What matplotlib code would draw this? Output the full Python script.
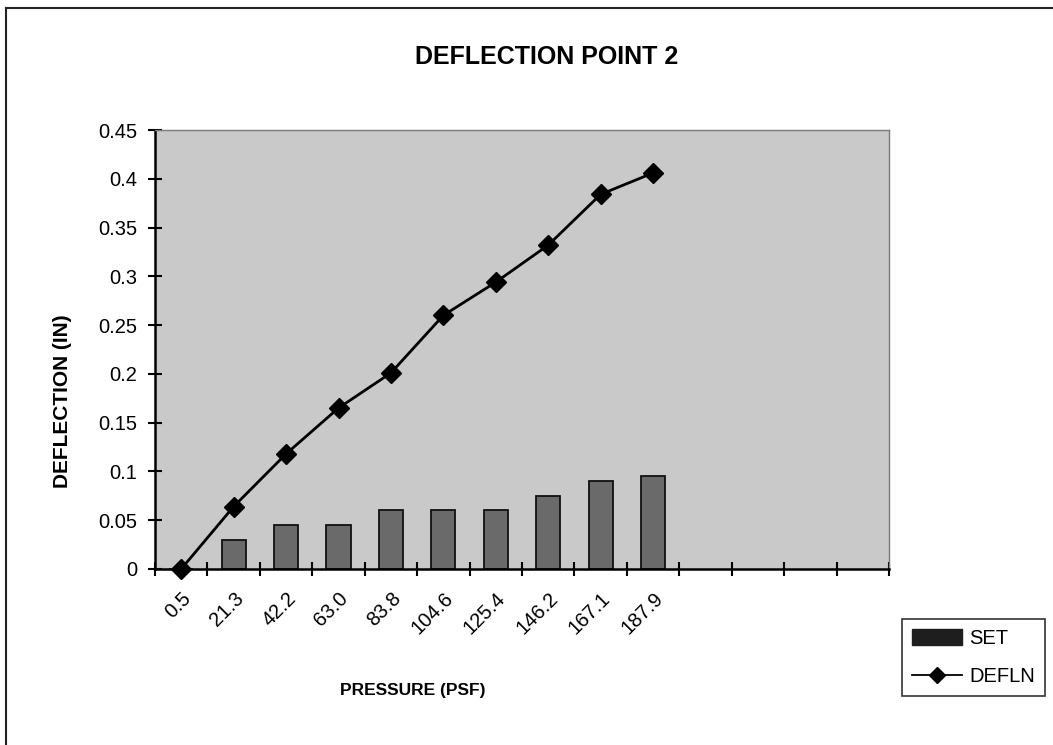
import numpy as np
import matplotlib.pyplot as plt
from matplotlib.lines import Line2D
from matplotlib.patches import Patch
from matplotlib.ticker import FuncFormatter

plt.rcParams['font.family'] = ['Liberation Sans', 'DejaVu Sans']

# data
pressure = ["0.5", "21.3", "42.2", "63.0", "83.8", "104.6", "125.4", "146.2", "167.1", "187.9"]
set_vals = [0.0, 0.03, 0.045, 0.045, 0.06, 0.06, 0.06, 0.075, 0.09, 0.095]
defln = [0.0, 0.064, 0.118, 0.165, 0.201, 0.260, 0.294, 0.332, 0.384, 0.406]
n_slots = 14  # the category axis has 4 empty slots after the data

W, H = 1053, 745
fig = plt.figure(figsize=(W / 100, H / 100), dpi=100)
ax = fig.add_axes([155 / W, 1 - 569 / H, (889 - 155) / W, (569 - 130) / H])
ax.set_facecolor('#c9c9c9')

x = np.arange(len(pressure))
ax.bar(x, set_vals, width=0.46, color='#6a6a6a', edgecolor='#111111', linewidth=1.3, zorder=2)
ax.plot(x, defln, color='black', lw=2.0, marker='D', markersize=10, zorder=3, clip_on=False)

ax.set_xlim(-0.5, n_slots - 0.5)
ax.set_ylim(0, 0.45)
ax.set_yticks(np.arange(0, 0.451, 0.05))
ax.yaxis.set_major_formatter(FuncFormatter(lambda v, p: '%g' % round(v, 2)))
ax.tick_params(axis='y', direction='inout', length=10, width=1.5, labelsize=14.5, pad=8)

ax.set_xticks(x)
ax.set_xticklabels(pressure, rotation=45, ha='right', va='top', rotation_mode='anchor', fontsize=14.5)
ax.tick_params(axis='x', which='major', length=0, pad=14)
ax.set_xticks(np.arange(-0.5, n_slots, 1.0), minor=True)
ax.tick_params(axis='x', which='minor', direction='inout', length=10, width=1.5)

for s in ['left', 'bottom']:
    ax.spines[s].set_linewidth(1.8)
    ax.spines[s].set_color('black')
for s in ['top', 'right']:
    ax.spines[s].set_linewidth(1.0)
    ax.spines[s].set_color('#7a7a7a')

fig.text(547 / W, 1 - 57 / H, 'DEFLECTION POINT 2', ha='center', va='center',
         fontsize=18, fontweight='bold')
fig.text(413 / W, 1 - 690 / H, 'PRESSURE (PSF)', ha='center', va='center',
         fontsize=12.5, fontweight='bold')
fig.text(63 / W, 1 - 401 / H, 'DEFLECTION (IN)', ha='center', va='center',
         rotation=90, fontsize=15, fontweight='bold')

handles = [Patch(facecolor='#1e1e1e', edgecolor='#1e1e1e'),
           Line2D([], [], color='black', lw=1.3, marker='D', markersize=8)]
leg = fig.legend(handles, ['SET', 'DEFLN'], loc='upper left',
                 bbox_to_anchor=(902 / W, 1 - 619 / H), fontsize=14.5,
                 frameon=True, fancybox=False, edgecolor='black',
                 handlelength=2.5, handleheight=0.8, labelspacing=0.95,
                 borderpad=0.5, handletextpad=0.35, borderaxespad=0)
leg.get_frame().set_linewidth(1.2)

# outer chart border (only top and left are visible in the scan)
fig.add_artist(Line2D([6 / W, 6 / W], [0, 1 - 8 / H], color='#222222', lw=1.5))
fig.add_artist(Line2D([6 / W, 1], [1 - 8 / H, 1 - 8 / H], color='#222222', lw=1.5))

fig.savefig('out.png', dpi=100)
